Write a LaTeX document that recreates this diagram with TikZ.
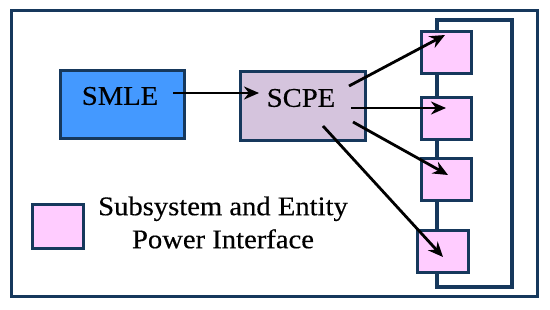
\documentclass[tikz,border=0pt]{standalone}
\usepackage{fontspec}
\setmainfont{Liberation Serif}[FakeStretch=1.06,FakeBold=0.4]
\usetikzlibrary{arrows.meta}
\definecolor{navy}{RGB}{22,56,92}
\definecolor{smleblue}{RGB}{68,153,255}
\definecolor{scpelilac}{RGB}{213,196,221}
\definecolor{pinkbox}{RGB}{255,204,255}
\tikzset{
  box/.style={draw=navy, line width=3.2pt, inner sep=0pt, anchor=north west},
  ifbox/.style={box, fill=pinkbox, minimum width=50pt, minimum height=42pt},
  lbl/.style={font=\fontsize{27}{33}\selectfont, inner sep=0pt},
  arr/.style={line width=2.8pt, -{Stealth[length=15pt,width=13pt]}}
}
\begin{document}
\begin{tikzpicture}[x=1pt,y=-1pt]
\useasboundingbox (0,0) rectangle (550,310);
\fill[white] (0,0) rectangle (550,310);
% outer frame
\draw[navy, line width=3pt] (11,11) rectangle (537,297);
% bus
\draw[navy, line width=3.2pt] (437,20) rectangle (512,287);
% main boxes
\node[box, fill=smleblue, minimum width=124pt, minimum height=68pt] (smle) at (59,69) {};
\node[box, fill=scpelilac, minimum width=125pt, minimum height=69pt] (scpe) at (239,70) {};
\node[lbl] (smlet) at (120,96) {SMLE};
\node[lbl] (scpet) at (301,98) {SCPE};
% interface boxes
\node[ifbox] (p1) at (420,30) {};
\node[ifbox] (p2) at (420,96) {};
\node[ifbox] (p3) at (420,157) {};
\node[ifbox, minimum width=51pt] (p4) at (416,229) {};
% legend
\node[ifbox, minimum width=51pt, minimum height=44pt] (leg) at (31,203) {};
\node[lbl, align=center] (legt) at (223,222.5) {Subsystem and Entity\\Power Interface};
% arrow endpoints
\coordinate (a0s) at (173,93);
\coordinate (a0e) at (259,93);
\coordinate (a1s) at (349,86);
\coordinate (a1e) at (445,35);
\coordinate (a2s) at (351,108);
\coordinate (a2e) at (446,108);
\coordinate (a3s) at (353,122);
\coordinate (a3e) at (448,175);
\coordinate (a4s) at (323,126);
\coordinate (a4e) at (443,257);
\draw[arr] (a0s) -- (a0e);
\draw[arr] (a1s) -- (a1e);
\draw[arr] (a2s) -- (a2e);
\draw[arr] (a3s) -- (a3e);
\draw[arr] (a4s) -- (a4e);
\end{tikzpicture}
\end{document}
